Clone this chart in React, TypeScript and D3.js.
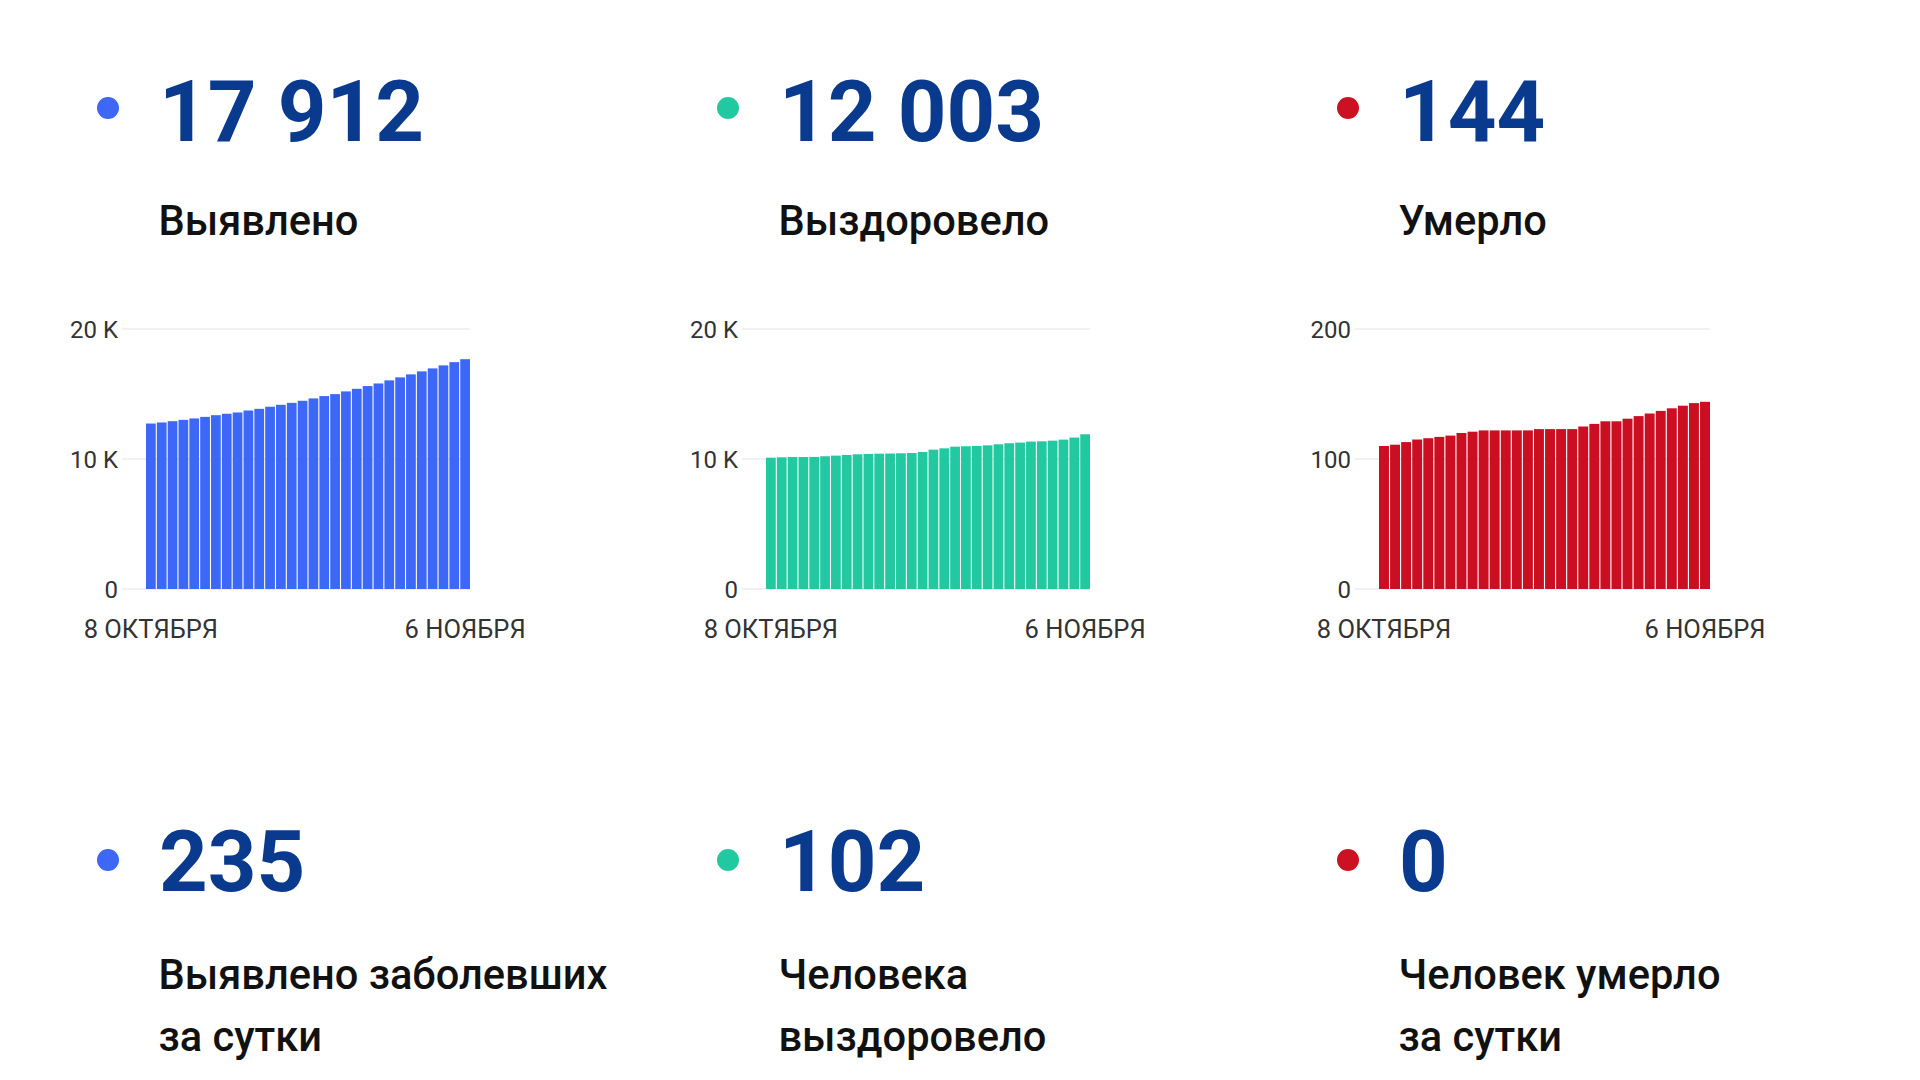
import React from "react";
import * as d3 from "d3";

// ---- data ----
const days: Date[] = d3.timeDay.range(new Date(2020, 9, 8), new Date(2020, 10, 7));
const xTickLabels = ["8 ОКТЯБРЯ", "6 НОЯБРЯ"];

const casesTotal = [12730, 12810, 12910, 13010, 13120, 13240, 13370, 13480, 13580, 13730, 13860, 14020, 14170, 14320, 14480, 14660, 14840, 14990, 15200, 15400, 15610, 15810, 16050, 16280, 16510, 16740, 16970, 17200, 17450, 17677];
const recoveredTotal = [10100, 10130, 10150, 10150, 10160, 10210, 10260, 10310, 10360, 10390, 10410, 10420, 10440, 10460, 10540, 10720, 10820, 10950, 10980, 11000, 11050, 11130, 11210, 11260, 11340, 11360, 11410, 11490, 11650, 11901];
const deathsTotal = [110, 111, 113, 115, 116, 117, 118, 120, 121, 122, 122, 122, 122, 122, 123, 123, 123, 123, 125, 127, 129, 129, 131, 133, 135, 137, 139, 141, 143, 144];

const headlineValues = ["17 912", "12 003", "144"];
const headlineLabels = ["Выявлено", "Выздоровело", "Умерло"];
const dailyValues = ["235", "102", "0"];
const dailyLabels = [["Выявлено заболевших", "за сутки"], ["Человека", "выздоровело"], ["Человек умерло", "за сутки"]];

const yTicksK = [0, 10000, 20000];
const yTickLabelsK = ["0", "10 K", "20 K"];
const yTicksD = [0, 100, 200];
const yTickLabelsD = ["0", "100", "200"];

// ---- styles ----
const dotColors = ["#3D67F4", "#22C8A0", "#CC1123"];
const barColors = ["#3D68F7", "#22C8A0", "#CC0E22"];
const numberColor = "#0A3A8E";
const FONT = "Roboto, 'Noto Sans', sans-serif";

const colOffsets = [0, 620, 1240];
const gridStarts = [122, 122, 115];

function BarChart({ idx, values, ticks, tickLabels }: { idx: number; values: number[]; ticks: number[]; tickLabels: string[] }) {
  const off = colOffsets[idx];
  const gx0 = gridStarts[idx] + off;
  const gx1 = 470 + off;
  const y = d3.scaleLinear().domain([0, ticks[ticks.length - 1]]).range([589, 329]);
  const x = d3.scaleBand<number>().domain(d3.range(values.length)).range([gx0 + 24, gx1]).paddingInner(0.1).paddingOuter(0);
  const labelIdx = [0, values.length - 1];
  return (
    <g>
      {ticks.map((t, i) => (
        <g key={"t" + i}>
          <line x1={gx0} x2={gx1} y1={y(t)} y2={y(t)} stroke="#ececec" strokeWidth={1.5} />
          <text x={gx0 - 4} y={y(t)} dy="0.36em" textAnchor="end" fontFamily={FONT} fontSize={24} fill="#333">
            {tickLabels[i]}
          </text>
        </g>
      ))}
      {values.map((v, i) => (
        <rect key={i} x={x(i)} y={y(v)} width={x.bandwidth()} height={y(0) - y(v)} fill={barColors[idx]} />
      ))}
      {labelIdx.map((li, k) => (
        <text key={"x" + k} x={(x(li) as number) + x.bandwidth() / 2} y={638} textAnchor="middle" fontFamily={FONT} fontSize={25.5} fill="#333">
          {xTickLabels[k]}
        </text>
      ))}
    </g>
  );
}

export default function App() {
  const series = [casesTotal, recoveredTotal, deathsTotal];
  const tickSets = [yTicksK, yTicksK, yTicksD];
  const tickLabelSets = [yTickLabelsK, yTickLabelsK, yTickLabelsD];
  return (
    <svg width={1920} height={1080} style={{ position: "absolute", left: 0, top: 0, background: "#fff" }}>
      <rect width={1920} height={1080} fill="#fff" />
      {colOffsets.map((off, i) => (
        <g key={i}>
          <circle cx={108 + off} cy={108} r={11} fill={dotColors[i]} />
          <text x={159 + off} y={141} fontFamily={FONT} fontWeight={700} fontSize={85} fill={numberColor}>
            {headlineValues[i]}
          </text>
          <text x={158.5 + off} y={235} fontFamily={FONT} fontWeight={500} fontSize={41.6} fill="#111">
            {headlineLabels[i]}
          </text>
          <BarChart idx={i} values={series[i]} ticks={tickSets[i]} tickLabels={tickLabelSets[i]} />
          <circle cx={108 + off} cy={860} r={11} fill={dotColors[i]} />
          <text x={159 + off} y={891} fontFamily={FONT} fontWeight={700} fontSize={85} fill={numberColor}>
            {dailyValues[i]}
          </text>
          {dailyLabels[i].map((line, j) => (
            <text key={j} x={158.5 + off} y={989 + j * 62} fontFamily={FONT} fontWeight={500} fontSize={41.6} fill="#111">
              {line}
            </text>
          ))}
        </g>
      ))}
    </svg>
  );
}
